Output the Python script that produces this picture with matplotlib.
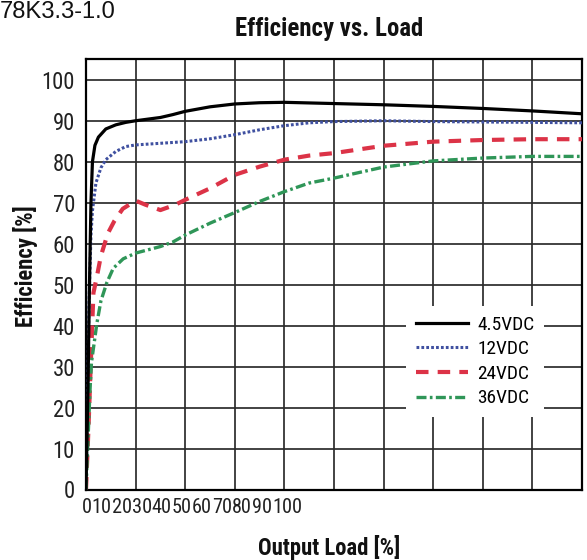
"""Efficiency vs. load curves for the 78K3.3-1.0 regulator."""

import matplotlib as mpl
mpl.use("Agg")
import matplotlib.pyplot as plt
from matplotlib import font_manager
import numpy as np


# efficiency [%], x in % of rated load
BLACK_X = [0, 0.4, 0.7, 1.0, 1.3, 1.8, 2.5, 4, 6, 8, 10, 12.5, 15, 17.5, 20, 25, 30, 35, 40, 50, 60, 70, 80, 90, 100]
BLACK_Y = [0, 25, 50, 70, 80, 84, 86, 88, 89, 89.6, 90, 90.4, 90.8, 91.5, 92.3, 93.4, 94.1, 94.4, 94.5, 94.2, 93.9, 93.5, 93.0, 92.4, 91.7]

BLUE_X = [0, 0.3, 0.6, 1.0, 1.3, 2, 3, 4, 6, 8, 10, 15, 20, 25, 30, 35, 40, 45, 50, 60, 70, 80, 90, 100]
BLUE_Y = [0, 20, 45, 62, 68, 74.8, 78.5, 80.5, 82.5, 83.7, 84.1, 84.5, 84.9, 85.6, 86.6, 87.8, 88.8, 89.5, 89.8, 90.0, 89.8, 89.7, 89.6, 89.5]

RED_X = [0, 0.5, 1.0, 1.5, 2.2, 3, 4.4, 5.7, 7.4, 10, 12, 15, 18, 20, 25, 30, 35, 40, 45, 50, 60, 70, 80, 90, 100]
RED_Y = [0, 15, 32, 48, 52, 57, 62.5, 65.5, 68.5, 70.5, 69.5, 68.2, 69.5, 70.7, 73.5, 76.8, 78.8, 80.5, 81.5, 82.1, 83.9, 84.9, 85.3, 85.5, 85.5]

GREEN_X = [0, 0.4, 0.8, 1.1, 2.2, 3, 4.2, 5.5, 7.5, 10, 15, 17.5, 20, 25, 30, 35, 40, 45, 50, 60, 70, 80, 90, 100]
GREEN_Y = [0, 12, 24, 31, 40.6, 46, 50.5, 54, 56.3, 57.7, 59.3, 60.4, 62.1, 65, 67.6, 70.3, 72.7, 74.8, 76, 78.7, 80.2, 80.9, 81.3, 81.3]

SERIES_LABELS = ["4.5VDC", "12VDC", "24VDC", "36VDC"]

# the original squeezes all x tick labels together near the origin
XTICK_LABELS = ["0", "10", "20", "30", "40", "50", "60", "70", "80", "90", "100"]
XTICK_POS = [0.2, 3.2, 7.2, 11.3, 15.3, 19.3, 23.4, 27.4, 31.4, 35.5, 40.5]
YTICKS = list(range(0, 101, 10))

NARROW_CHOICES = ["Liberation Sans Narrow", "Arial Narrow", "Nimbus Sans Narrow",
                  "Roboto Condensed", "Archivo Narrow", "PT Sans Narrow", "Pragati Narrow",
                  "Fira Sans Condensed", "IBM Plex Sans Condensed", "Barlow Semi Condensed",
                  "Asap Condensed"]


def pick_narrow() -> list[str]:
    weights: dict[str, set] = {}
    for f in font_manager.fontManager.ttflist:
        if f.style == "normal":
            weights.setdefault(f.name, set()).add(f.weight)
    for name in NARROW_CHOICES:
        w = weights.get(name, set())
        if (400 in w or "normal" in w) and (700 in w or "bold" in w):
            return [name, "Liberation Sans", "DejaVu Sans"]
    return ["Liberation Sans", "DejaVu Sans"]


def fitted_size(fig, text, target_px, ref=20.0, **kw) -> float:
    """Font size that makes `text` about target_px wide."""
    probe = fig.text(0, 0, text, fontsize=ref, **kw)
    width = probe.get_window_extent(fig.canvas.get_renderer()).width
    probe.remove()
    return ref * target_px / width


def main() -> None:
    plt.rcParams["font.family"] = ["Liberation Sans", "DejaVu Sans"]
    narrow = pick_narrow()

    fig = plt.figure(figsize=(5.87, 5.6), dpi=100)
    W, H = 587, 560
    ax = fig.add_axes([86 / W, 70.5 / H, (582 - 86) / W, (489.5 - 59.3) / H])

    tick_size = fitted_size(fig, "".join(XTICK_LABELS), 220, family=narrow)
    legend_size = fitted_size(fig, SERIES_LABELS[0], 57, family=narrow)
    title_size = fitted_size(fig, "Efficiency vs. Load", 188, family=narrow, fontweight="bold")
    label_size = fitted_size(fig, "Output Load [%]", 142, family=narrow, fontweight="bold")
    model_size = fitted_size(fig, "78K3.3-1.0", 116, family=["Liberation Sans", "DejaVu Sans"])

    ax.plot(BLACK_X, BLACK_Y, color="black", lw=2.3, label=SERIES_LABELS[0], zorder=4)
    ax.plot(BLUE_X, BLUE_Y, color="#3f50a0", lw=2.2, dashes=(0.9, 0.7), label=SERIES_LABELS[1], zorder=3)
    ax.plot(RED_X, RED_Y, color="#dc3347", lw=3.0, dashes=(3.0, 2.2), label=SERIES_LABELS[2], zorder=3)
    ax.plot(GREEN_X, GREEN_Y, color="#2f9658", lw=2.4, dashes=(3.0, 1.0, 0.8, 1.0), label=SERIES_LABELS[3], zorder=3)

    ax.set_xlim(0, 100)
    ax.set_ylim(0, 105)
    ax.set_yticks(YTICKS)
    ax.set_xticks(XTICK_POS)
    ax.set_xticklabels(XTICK_LABELS)
    ax.set_xticks(np.arange(0, 101, 10), minor=True)
    ax.tick_params(axis="both", which="both", length=0, colors="#222222")
    ax.tick_params(axis="x", labelsize=tick_size, pad=6)
    ax.tick_params(axis="y", labelsize=tick_size * 1.12, pad=8)
    for label in ax.get_xticklabels() + ax.get_yticklabels():
        label.set_family(narrow)
    ax.grid(False)
    ax.grid(True, axis="y", which="major", color="#2b2b2b", lw=1.25)
    ax.grid(True, axis="x", which="minor", color="#2b2b2b", lw=1.25)
    ax.set_axisbelow(True)
    for spine in ax.spines.values():
        spine.set_linewidth(1.6)
        spine.set_color("black")

    ax.legend(
        loc="lower left", bbox_to_anchor=(0.645, 0.1685), borderaxespad=0,
        frameon=True, fancybox=False, edgecolor="none", facecolor="white", framealpha=1,
        handlelength=2.7, handletextpad=0.5, labelspacing=0.34, borderpad=0.5,
        prop={"family": narrow, "size": legend_size},
    )

    fig.text(0, 1 - 12 / H, "78K3.3-1.0", ha="left", va="center", fontsize=model_size, color="#111111")
    fig.text(329 / W, 1 - 29 / H, "Efficiency vs. Load", ha="center", va="center",
             fontsize=title_size, fontweight="bold", family=narrow, color="#111111")
    fig.text(329 / W, 1 - 548 / H, "Output Load [%]", ha="center", va="center",
             fontsize=label_size, fontweight="bold", family=narrow, color="#111111")
    fig.text(25 / W, 1 - 266 / H, "Efficiency [%]", ha="center", va="center", rotation=90,
             fontsize=label_size, fontweight="bold", family=narrow, color="#111111")

    fig.savefig("out.png", dpi=100)


if __name__ == "__main__":
    main()
